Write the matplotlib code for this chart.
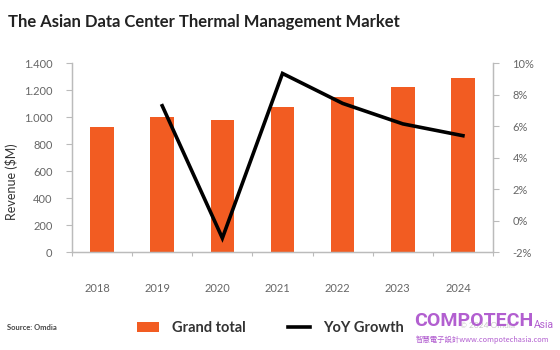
import matplotlib
matplotlib.use("Agg")
import matplotlib.pyplot as plt
import matplotlib.transforms as mtransforms
from matplotlib.patches import Patch
from matplotlib.lines import Line2D
from matplotlib.ticker import FuncFormatter
import numpy as np

# ---- data ----
years = ["2018", "2019", "2020", "2021", "2022", "2023", "2024"]
revenue = [930, 1000, 979, 1073, 1152, 1226, 1293]          # $M, Grand total
growth_years = ["2019", "2020", "2021", "2022", "2023", "2024"]
yoy_growth = [7.3, -1.1, 9.35, 7.45, 6.15, 5.4]             # %
left_ticks = [0, 200, 400, 600, 800, 1000, 1200, 1400]
right_ticks = [-2, 0, 2, 4, 6, 8, 10]

ORANGE = "#F25C22"
GRAY_TXT = "#666666"
SPINE = "#BBBBBB"
FONT = ["Lato", "DejaVu Sans"]
plt.rcParams["font.family"] = FONT

fig = plt.figure(figsize=(5.6, 3.5), dpi=100)
ax = fig.add_axes([72/560, 1-252.3/350, (493-72)/560, (252.3-63.2)/350])
ax2 = ax.twinx()

x = np.arange(len(years))
ax.bar(x, revenue, width=0.39, color=ORANGE, zorder=2)
gx = [years.index(y) for y in growth_years]
ax2.plot(gx, yoy_growth, color="black", lw=2.6, solid_joinstyle="miter", zorder=3)

ax.set_xlim(-0.5, len(years)-0.5)
ax.set_ylim(0, 1400)
ax2.set_ylim(-2, 10)
ax.set_yticks(left_ticks)
ax.yaxis.set_major_formatter(FuncFormatter(lambda v, p: f"{int(v):,}".replace(",", ".")))
ax2.set_yticks(right_ticks)
ax2.yaxis.set_major_formatter(FuncFormatter(lambda v, p: f"{int(v)}%"))

ax.set_xticks(x)
ax.set_xticklabels(years)
ax.set_xticks(np.arange(-0.5, len(years), 1), minor=True)
ax.tick_params(axis="x", which="major", length=0, pad=22, labelsize=8, labelcolor=GRAY_TXT)
ax.tick_params(axis="x", which="minor", length=3, color=SPINE, width=0.8)
offset = mtransforms.ScaledTranslation(-5/100, 0, fig.dpi_scale_trans)
for lbl in ax.get_xticklabels():
    lbl.set_transform(lbl.get_transform() + offset)

ax.tick_params(axis="y", length=4, color=SPINE, width=0.8, pad=10, labelsize=8, labelcolor=GRAY_TXT)
ax2.tick_params(axis="y", length=4, color=SPINE, width=0.8, pad=10, labelsize=8, labelcolor=GRAY_TXT)

for a in (ax, ax2):
    a.spines["top"].set_visible(False)
    for s in ("left", "right", "bottom"):
        a.spines[s].set_color(SPINE)
        a.spines[s].set_linewidth(0.9)

ax.set_ylabel("Revenue ($M)", fontsize=9, color="#333333")
ax.yaxis.set_label_coords(-0.128, 0.375)

fig.text(8/560, 1-22/350, "The Asian Data Center Thermal Management Market",
         fontsize=12, fontweight="bold", color="#222222", va="center", ha="left")

fig.text(7/560, 1-328/350, "Source: Omdia", fontsize=5.5, color="#444444",
         va="center", ha="left", fontweight="bold")

handles = [Patch(facecolor=ORANGE, edgecolor="none", label="Grand total"),
           Line2D([0], [0], color="black", lw=2.6, label="YoY Growth")]
fig.legend(handles=handles, loc="center left", bbox_to_anchor=(124/560, 1-328/350),
           ncol=2, frameon=False, handlelength=1.5, handleheight=0.62,
           handletextpad=0.9, columnspacing=2.9, labelcolor="#333333",
           prop={"family": FONT, "size": 10.5, "weight": "bold"})

# watermark
fig.text(487/560, 1-326/350, "© 2024 Omdia", fontsize=6, color="#C8C8C8",
         va="center", ha="center")
PURPLE = "#B25FD0"
fig.text(414/560, 1-321/350, "COMPOTECH", fontsize=14, fontweight="bold", color=PURPLE,
         va="center", ha="left", family=["Roboto", "DejaVu Sans"])
fig.text(554/560, 1-325/350, "Asia", fontsize=7.5, color=PURPLE, va="center", ha="right",
         family=["Roboto", "DejaVu Sans"])
fig.text(416/560, 1-340/350, "智慧電子設計www.compotechasia.com", fontsize=5.3, color=PURPLE,
         va="center", ha="left", family=["Noto Sans CJK TC", "DejaVu Sans"])

fig.savefig("out.png", dpi=100)
